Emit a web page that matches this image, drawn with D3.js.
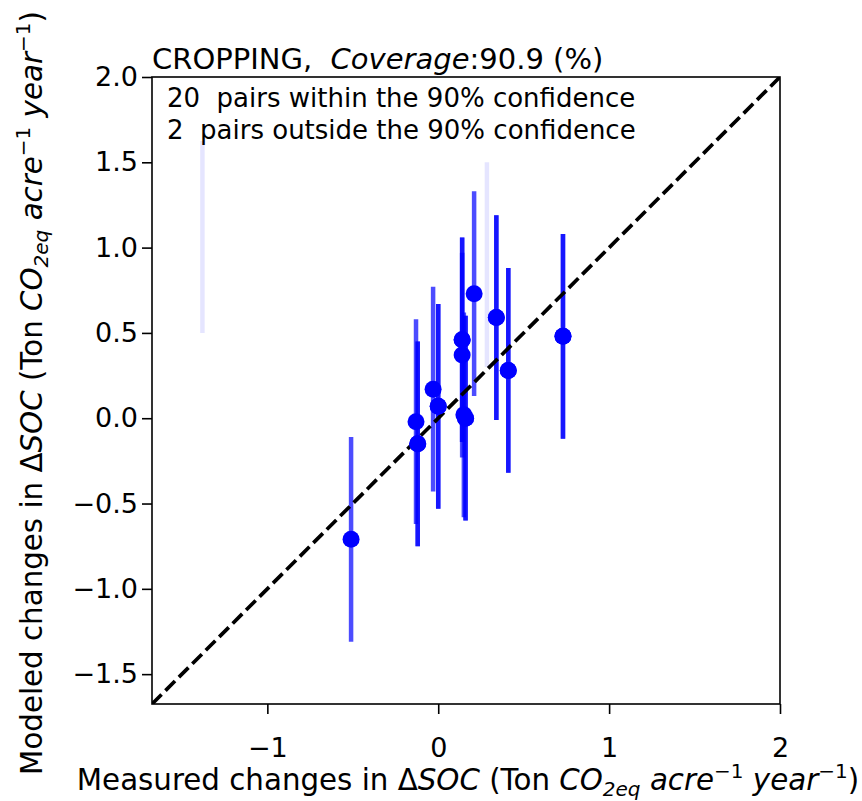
<!DOCTYPE html>
<html>
<head>
<meta charset="utf-8">
<script src="https://cdn.jsdelivr.net/npm/d3@7/dist/d3.min.js"></script>
<style>
  html, body { margin: 0; padding: 0; background: #fff; }
  svg { display: block; font-family: "DejaVu Sans", sans-serif; }
  text { white-space: pre; }
</style>
</head>
<body>
<svg id="chart" width="862" height="801"></svg>
<script>
// Pairs inside the 90% confidence band (measured vs. modeled ΔSOC)
const measuredIn = [-0.51, -0.13, -0.12, -0.12, -0.03, 0.00, 0.00, 0.14, 0.14, 0.14, 0.15, 0.16, 0.16, 0.21, 0.34, 0.34, 0.41, 0.41, 0.73, 0.73];
const modeledIn  = [-0.71, -0.02, -0.15, -0.15, 0.17, 0.07, 0.07, 0.46, 0.46, 0.37, 0.02, 0.00, 0.00, 0.73, 0.59, 0.59, 0.28, 0.28, 0.48, 0.48];
// Pairs outside the 90% confidence band
const measuredOut = [-1.38, 0.285];
const modeledOut  = [1.10, 0.90];
// Half-width of the 90% confidence interval on modeled values
const ciHalf = 0.6;

const xTicks = [-1, 0, 1, 2];
const yTicks = [-1.5, -1.0, -0.5, 0.0, 0.5, 1.0, 1.5, 2.0];
const axisMin = -1.675, axisMax = 2.0;
const coverage = 90.9;

const svg = d3.select("#chart");
const L = 152, R = 780, T = 77, B = 704;

const x = d3.scaleLinear().domain([axisMin, axisMax]).range([L, R]);
const y = d3.scaleLinear().domain([axisMin, axisMax]).range([B, T]);

const plot = svg.append("g");
const clipId = "plotclip";
svg.append("defs").append("clipPath").attr("id", clipId)
  .append("rect").attr("x", L).attr("y", T).attr("width", R - L).attr("height", B - T);
const inner = plot.append("g").attr("clip-path", `url(#${clipId})`);

const inPairs = measuredIn.map((m, i) => ({ m, p: modeledIn[i] }));
const outPairs = measuredOut.map((m, i) => ({ m, p: modeledOut[i] }));

// outside pairs: faint bars
inner.selectAll("line.out").data(outPairs).join("line")
  .attr("class", "out")
  .attr("x1", d => x(d.m)).attr("x2", d => x(d.m))
  .attr("y1", d => y(d.p - ciHalf)).attr("y2", d => y(d.p + ciHalf))
  .attr("stroke", "#0000ff").attr("stroke-opacity", 0.1).attr("stroke-width", 4.5);

// inside pairs: error bars
inner.selectAll("line.in").data(inPairs).join("line")
  .attr("class", "in")
  .attr("x1", d => x(d.m)).attr("x2", d => x(d.m))
  .attr("y1", d => y(d.p - ciHalf)).attr("y2", d => y(d.p + ciHalf))
  .attr("stroke", "#0000ff").attr("stroke-opacity", 0.7).attr("stroke-width", 4.5);

// 1:1 line
inner.append("line")
  .attr("x1", x(axisMin)).attr("y1", y(axisMin))
  .attr("x2", x(axisMax)).attr("y2", y(axisMax))
  .attr("stroke", "#000").attr("stroke-width", 3.7)
  .attr("stroke-dasharray", "13.5,5.5");

// points
inner.selectAll("circle.in").data(inPairs).join("circle")
  .attr("class", "in")
  .attr("cx", d => x(d.m)).attr("cy", d => y(d.p))
  .attr("r", 8.5).attr("fill", "#0000ff");

// annotation box
const box = plot.append("g");
box.append("rect").attr("x", L + 1).attr("y", T + 1).attr("width", 492).attr("height", 63).attr("fill", "#fff");
box.append("text").attr("x", 167).attr("y", 107).attr("font-size", 26).attr("fill", "#000")
  .text(`${inPairs.length}  pairs within the 90% confidence`);
box.append("text").attr("x", 167).attr("y", 139).attr("font-size", 26).attr("fill", "#000")
  .text(`${outPairs.length}  pairs outside the 90% confidence`);

// axes
const minus = s => s.replace("-", "\u2212");
const xAxis = d3.axisBottom(x).tickValues(xTicks).tickSize(10).tickPadding(24)
  .tickFormat(d => minus(d3.format("d")(d)));
const yAxis = d3.axisLeft(y).tickValues(yTicks).tickSize(10).tickPadding(4)
  .tickFormat(d => minus(d3.format(".1f")(d)));

const gx = svg.append("g").attr("transform", `translate(0,${B})`).call(xAxis);
const gy = svg.append("g").attr("transform", `translate(${L},0)`).call(yAxis);
[gx, gy].forEach(g => {
  g.select(".domain").remove();
  g.selectAll(".tick line").attr("stroke", "#000").attr("stroke-width", 1.6);
  g.selectAll(".tick text").attr("font-size", 27).attr("fill", "#000")
    .attr("font-family", "DejaVu Sans, sans-serif");
});
gx.selectAll(".tick text").attr("dy", 0);
gx.selectAll(".tick text").attr("y", 757 - B);

// frame
svg.append("rect").attr("x", L).attr("y", T).attr("width", R - L).attr("height", B - T)
  .attr("fill", "none").attr("stroke", "#000").attr("stroke-width", 1.6);

// title
const title = svg.append("text").attr("x", L).attr("y", 69).attr("font-size", 29).attr("fill", "#000");
title.append("tspan").text("CROPPING,  ");
title.append("tspan").attr("font-style", "italic").text("Coverage");
title.append("tspan").text(`:${coverage} (%)`);

// axis label with math-style pieces
function unitLabel(sel, lead) {
  sel.append("tspan").text(lead + " \u0394");
  sel.append("tspan").attr("font-style", "italic").text("SOC");
  sel.append("tspan").text(" (Ton ");
  sel.append("tspan").attr("font-style", "italic").text("CO");
  sel.append("tspan").attr("font-style", "italic").attr("font-size", 20).attr("dy", 6).text("2eq");
  sel.append("tspan").attr("dy", -6).text(" ");
  sel.append("tspan").attr("font-style", "italic").text("acre");
  sel.append("tspan").attr("font-size", 20).attr("dy", -12).text("\u22121");
  sel.append("tspan").attr("dy", 12).text(" ");
  sel.append("tspan").attr("font-style", "italic").text("year");
  sel.append("tspan").attr("font-size", 20).attr("dy", -12).text("\u22121");
  sel.append("tspan").attr("dy", 12).text(")");
}

const xl = svg.append("text").attr("x", 468).attr("y", 790).attr("font-size", 29.3)
  .attr("text-anchor", "middle").attr("fill", "#000");
unitLabel(xl, "Measured changes in");

const yl = svg.append("text").attr("transform", "translate(42,393) rotate(-90)")
  .attr("font-size", 29.3).attr("text-anchor", "middle").attr("fill", "#000");
unitLabel(yl, "Modeled changes in");
</script>
</body>
</html>
